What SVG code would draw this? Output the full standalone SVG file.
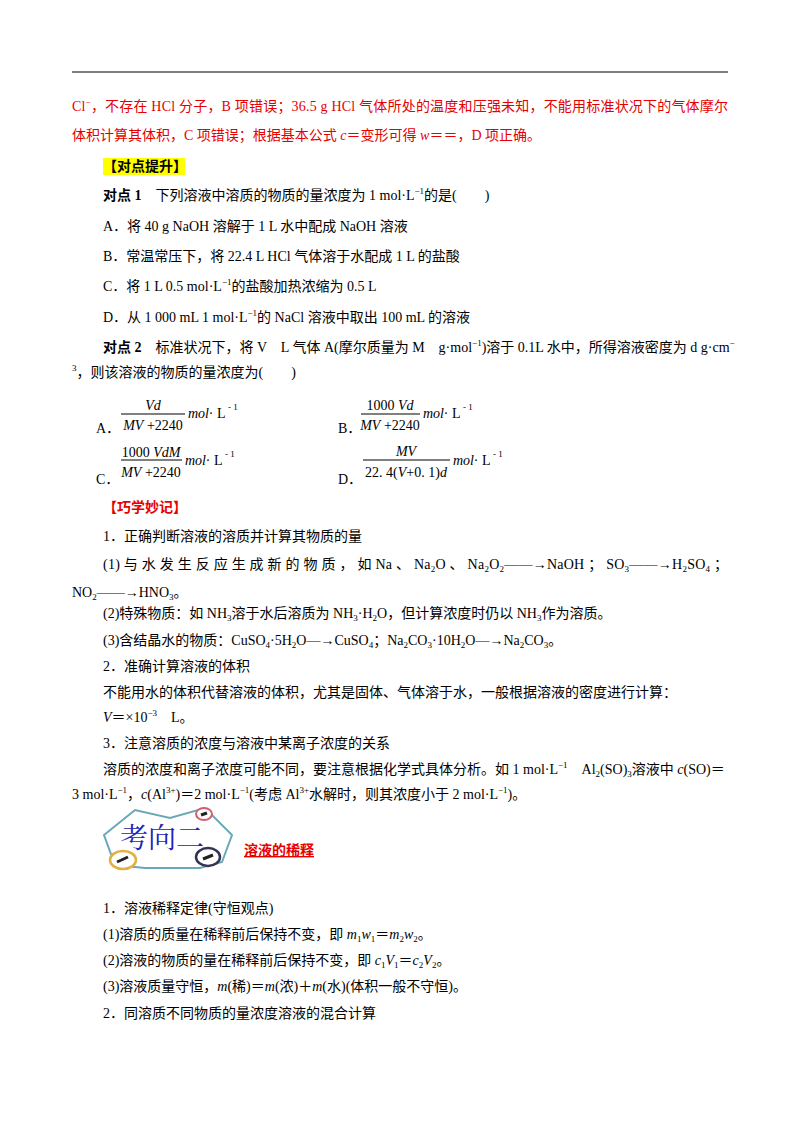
<svg xmlns="http://www.w3.org/2000/svg" width="800" height="1132" viewBox="0 0 800 1132">
<style>
text{font-family:"Liberation Serif","Noto Sans CJK SC",serif;font-size:14px;fill:#000}
.r{fill:#e60000}
.b{font-weight:bold}
.i{font-style:italic}
.s{font-size:9px}
</style>
<rect width="800" height="1132" fill="#fff"/>
<line x1="72" y1="72" x2="728" y2="72" stroke="#000" stroke-width="1.2"/>
<text x="72" y="111" class="r" textLength="656" lengthAdjust="spacing">Cl<tspan class="s" dy="-6">−</tspan><tspan dy="6">，不存在 HCl 分子，B 项错误；36.5 g HCl 气体所处的温度和压强未知，不能用标准状况下的气体摩尔</tspan></text>
<text x="72" y="140" class="r">体积计算其体积，C 项错误；根据基本公式 <tspan class="i">c</tspan>＝变形可得 <tspan class="i">w</tspan>＝＝，D 项正确。</text>
<rect x="103" y="158" width="82" height="17" fill="#ffff00"/>
<text x="103" y="171" class="b">【对点提升】</text>
<text x="103" y="200"><tspan class="b">对点 1</tspan>　下列溶液中溶质的物质的量浓度为 1 mol·L<tspan class="s" dy="-6">−1</tspan><tspan dy="6">的是(　　)</tspan></text>
<text x="103" y="231">A．将 40 g NaOH 溶解于 1 L 水中配成 NaOH 溶液</text>
<text x="103" y="261">B．常温常压下，将 22.4 L HCl 气体溶于水配成 1 L 的盐酸</text>
<text x="103" y="291">C．将 1 L 0.5 mol·L<tspan class="s" dy="-6">−1</tspan><tspan dy="6">的盐酸加热浓缩为 0.5 L</tspan></text>
<text x="103" y="322">D．从 1 000 mL 1 mol·L<tspan class="s" dy="-6">−1</tspan><tspan dy="6">的 NaCl 溶液中取出 100 mL 的溶液</tspan></text>
<text x="103" y="352"><tspan class="b">对点 2</tspan>　标准状况下，将 V　L 气体 A(摩尔质量为 M　g·mol<tspan class="s" dy="-6">−1</tspan><tspan dy="6">)溶于 0.1L 水中，所得溶液密度为 d g·cm</tspan><tspan class="s" dy="-6">−</tspan></text>
<text x="72" y="377"><tspan class="s" dy="-6">3</tspan><tspan dy="6">，则该溶液的物质的量浓度为(　　)</tspan></text>
<g stroke="#000" stroke-width="1">
<line x1="121" y1="414" x2="185" y2="414"/>
<line x1="361" y1="414" x2="420" y2="414"/>
<line x1="121" y1="460" x2="182" y2="460"/>
<line x1="363" y1="460" x2="450" y2="460"/>
</g>
<text x="96" y="433">A．</text>
<text x="153" y="410" text-anchor="middle" class="i">Vd</text>
<text x="153" y="430" text-anchor="middle"><tspan class="i">MV</tspan> +2240</text>
<text x="188" y="418" class="i">mol·</text><text x="217" y="418">L</text><text x="228" y="410" class="s">- 1</text>
<text x="338" y="433">B．</text>
<text x="390" y="410" text-anchor="middle">1000 <tspan class="i">Vd</tspan></text>
<text x="390" y="430" text-anchor="middle"><tspan class="i">MV</tspan> +2240</text>
<text x="423" y="418" class="i">mol·</text><text x="452" y="418">L</text><text x="463" y="410" class="s">- 1</text>
<text x="96" y="484">C．</text>
<text x="151" y="457" text-anchor="middle">1000 <tspan class="i">VdM</tspan></text>
<text x="151" y="477" text-anchor="middle"><tspan class="i">MV</tspan> +2240</text>
<text x="185" y="465" class="i">mol·</text><text x="214" y="465">L</text><text x="225" y="457" class="s">- 1</text>
<text x="338" y="484">D．</text>
<text x="406" y="456" text-anchor="middle" class="i">MV</text>
<text x="406" y="477" text-anchor="middle">22. 4(<tspan class="i">V</tspan>+0. 1)<tspan class="i">d</tspan></text>
<text x="453" y="465" class="i">mol·</text><text x="482" y="465">L</text><text x="493" y="457" class="s">- 1</text>
<text x="103" y="512" class="b r">【巧学妙记】</text>
<text x="103" y="541">1．正确判断溶液的溶质并计算其物质的量</text>
<text x="103" y="569" textLength="625" lengthAdjust="spacing">(1) 与 水 发 生 反 应 生 成 新 的 物 质 ， 如  Na 、 Na<tspan class="s" dy="3">2</tspan><tspan dy="-3">O 、 Na</tspan><tspan class="s" dy="3">2</tspan><tspan dy="-3">O</tspan><tspan class="s" dy="3">2</tspan><tspan dy="-3">——→NaOH ； SO</tspan><tspan class="s" dy="3">3</tspan><tspan dy="-3">——→H</tspan><tspan class="s" dy="3">2</tspan><tspan dy="-3">SO</tspan><tspan class="s" dy="3">4</tspan><tspan dy="-3"> ；</tspan></text>
<text x="72" y="597">NO<tspan class="s" dy="3">2</tspan><tspan dy="-3">——→HNO</tspan><tspan class="s" dy="3">3</tspan><tspan dy="-3">。</tspan></text>
<text x="103" y="618">(2)特殊物质：如 NH<tspan class="s" dy="3">3</tspan><tspan dy="-3">溶于水后溶质为 NH</tspan><tspan class="s" dy="3">3</tspan><tspan dy="-3">·H</tspan><tspan class="s" dy="3">2</tspan><tspan dy="-3">O，但计算浓度时仍以 NH</tspan><tspan class="s" dy="3">3</tspan><tspan dy="-3">作为溶质。</tspan></text>
<text x="103" y="645">(3)含结晶水的物质：CuSO<tspan class="s" dy="3">4</tspan><tspan dy="-3">·5H</tspan><tspan class="s" dy="3">2</tspan><tspan dy="-3">O—→CuSO</tspan><tspan class="s" dy="3">4</tspan><tspan dy="-3">；Na</tspan><tspan class="s" dy="3">2</tspan><tspan dy="-3">CO</tspan><tspan class="s" dy="3">3</tspan><tspan dy="-3">·10H</tspan><tspan class="s" dy="3">2</tspan><tspan dy="-3">O—→Na</tspan><tspan class="s" dy="3">2</tspan><tspan dy="-3">CO</tspan><tspan class="s" dy="3">3</tspan><tspan dy="-3">。</tspan></text>
<text x="103" y="671">2．准确计算溶液的体积</text>
<text x="103" y="697">不能用水的体积代替溶液的体积，尤其是固体、气体溶于水，一般根据溶液的密度进行计算：</text>
<text x="103" y="722"><tspan class="i">V</tspan>＝×10<tspan class="s" dy="-6">−3</tspan><tspan dy="6">　L。</tspan></text>
<text x="103" y="748">3．注意溶质的浓度与溶液中某离子浓度的关系</text>
<text x="103" y="774">溶质的浓度和离子浓度可能不同，要注意根据化学式具体分析。如 1 mol·L<tspan class="s" dy="-6">−1</tspan><tspan dy="6">　Al</tspan><tspan class="s" dy="3">2</tspan><tspan dy="-3">(SO)</tspan><tspan class="s" dy="3">3</tspan><tspan dy="-3">溶液中 </tspan><tspan class="i">c</tspan>(SO)＝</text>
<text x="72" y="799">3 mol·L<tspan class="s" dy="-6">−1</tspan><tspan dy="6">，</tspan><tspan class="i">c</tspan>(Al<tspan class="s" dy="-6">3+</tspan><tspan dy="6">)＝2 mol·L</tspan><tspan class="s" dy="-6">−1</tspan><tspan dy="6">(考虑 Al</tspan><tspan class="s" dy="-6">3+</tspan><tspan dy="6">水解时，则其浓度小于 2 mol·L</tspan><tspan class="s" dy="-6">−1</tspan><tspan dy="6">)。</tspan></text>
<g id="logo">
<polygon points="104,835 135,810 170,818 205,808 232,835 222,862 200,868 145,868 115,865" fill="#fff" stroke="#6aa8b8" stroke-width="2"/>
<text x="120" y="848" style="font-family:'Noto Serif CJK SC','Noto Sans CJK SC',serif;font-size:28px;fill:#2222bb">考向二</text>
<ellipse cx="204" cy="814" rx="8" ry="6" fill="#fff" stroke="#d06070" stroke-width="2"/>
<ellipse cx="208" cy="857" rx="12" ry="9" fill="#fff" stroke="#333355" stroke-width="2.5"/>
<ellipse cx="123" cy="860" rx="13" ry="9" fill="#fff" stroke="#e0b040" stroke-width="2.5"/>
<path d="M117 862 L128 857 M203 859 L213 855 M201 815 L207 813" stroke="#222" stroke-width="3"/>
</g>
<text x="244" y="855" class="b r" style="text-decoration:underline">溶液的稀释</text>
<text x="103" y="913">1．溶液稀释定律(守恒观点)</text>
<text x="103" y="939">(1)溶质的质量在稀释前后保持不变，即 <tspan class="i">m</tspan><tspan class="s" dy="3">1</tspan><tspan class="i" dy="-3">w</tspan><tspan class="s" dy="3">1</tspan><tspan dy="-3">＝</tspan><tspan class="i">m</tspan><tspan class="s" dy="3">2</tspan><tspan class="i" dy="-3">w</tspan><tspan class="s" dy="3">2</tspan><tspan dy="-3">。</tspan></text>
<text x="103" y="965">(2)溶液的物质的量在稀释前后保持不变，即 <tspan class="i">c</tspan><tspan class="s" dy="3">1</tspan><tspan class="i" dy="-3">V</tspan><tspan class="s" dy="3">1</tspan><tspan dy="-3">＝</tspan><tspan class="i">c</tspan><tspan class="s" dy="3">2</tspan><tspan class="i" dy="-3">V</tspan><tspan class="s" dy="3">2</tspan><tspan dy="-3">。</tspan></text>
<text x="103" y="991">(3)溶液质量守恒，<tspan class="i">m</tspan>(稀)＝<tspan class="i">m</tspan>(浓)＋<tspan class="i">m</tspan>(水)(体积一般不守恒)。</text>
<text x="103" y="1018">2．同溶质不同物质的量浓度溶液的混合计算</text>
</svg>
